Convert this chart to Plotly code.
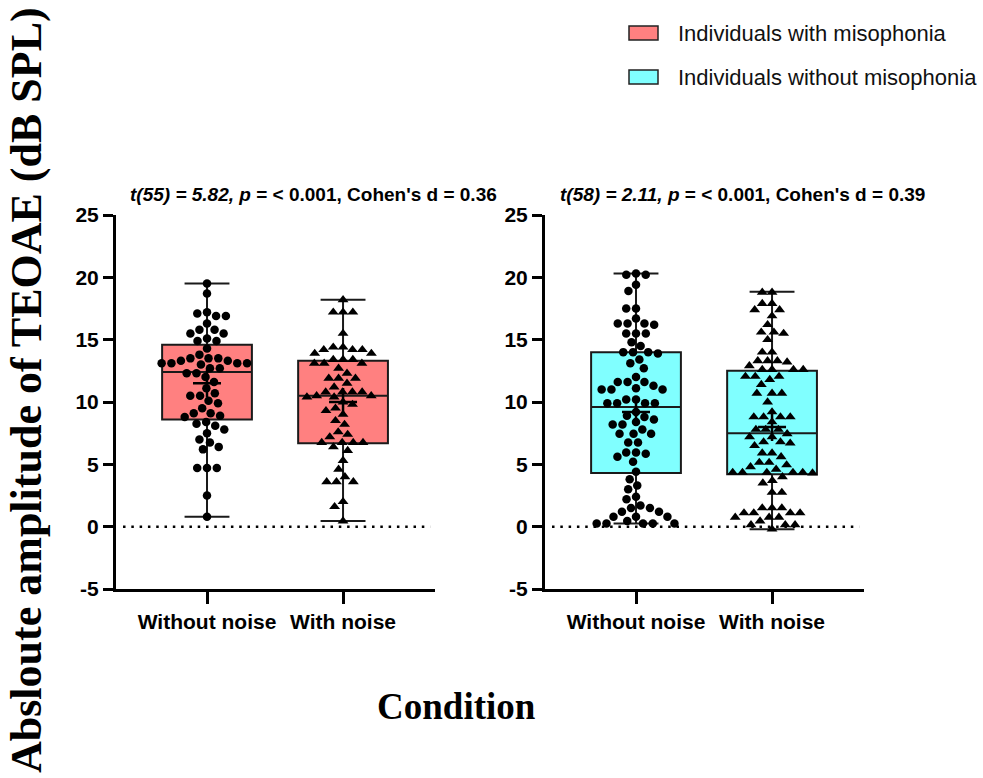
import math
import plotly.graph_objects as go

# ---------------- data ----------------
conditions = ["Without noise", "With noise"]
groups = ["Individuals with misophonia", "Individuals without misophonia"]
panel_titles = [
    "<b><i>t(55) = 5.82,</i> <i>p</i> = &lt; 0.001, Cohen's d = 0.36</b>",
    "<b><i>t(58) = 2.11,</i> <i>p</i> = &lt; 0.001, Cohen's d = 0.39</b>",
]
y_title = "Absloute amplitude of TEOAE (dB SPL)"
x_title = "Condition"
y_tick_values = [-5, 0, 5, 10, 15, 20, 25]
y_tick_labels = ["-5", "0", "5", "10", "15", "20", "25"]

miso_without = [19.5, 18.7, 17.2, 17.1, 16.9, 16.9, 16.3, 15.8, 15.8, 15.5, 15.5, 15.1, 14.9, 14.9,
                14.3, 13.8, 13.5, 13.5, 13.5, 13.3, 13.3, 13.1, 13.1, 13.0, 13.1, 13.1, 12.7, 12.7,
                12.3, 12.3, 12.0, 11.6, 11.1, 10.7, 10.5, 10.5, 10.1, 9.9, 9.5, 9.1, 9.1, 8.9, 8.8,
                8.4, 8.25, 8.1, 7.8, 7.5, 7.0, 6.75, 6.4, 6.2, 4.7, 4.7, 4.7, 2.5, 0.8]
miso_with = [18.2, 17.2, 17.2, 17.2, 15.5, 14.2, 14.2, 14.4, 14.4, 14.2, 13.9, 13.9, 13.4, 13.4,
             13.4, 13.1, 13.1, 13.1, 12.7, 12.3, 11.9, 11.9, 11.9, 11.5, 11.2, 10.8, 10.8, 10.8,
             10.8, 10.5, 10.5, 10.4, 10.4, 10.0, 9.8, 9.5, 9.3, 9.0, 8.5, 8.2, 7.6, 7.4, 7.2, 6.75,
             6.75, 6.75, 6.75, 6.4, 6.1, 5.3, 4.6, 4.0, 3.6, 3.6, 3.6, 2.0, 1.6, 0.45]
ctrl_without = [20.2, 20.3, 20.2, 19.4, 18.9, 17.5, 17.5, 16.7, 16.3, 16.3, 16.3, 16.2, 15.5, 15.5,
                15.5, 14.8, 14.5, 14.0, 14.0, 14.0, 13.9, 13.4, 13.1, 12.7, 12.0, 11.6, 11.6, 11.6,
                11.3, 11.1, 11.0, 11.0, 11.0, 10.2, 10.2, 9.9, 9.9, 9.9, 9.9, 9.2, 8.9, 8.8, 8.6, 8.4,
                8.2, 8.2, 7.8, 7.45, 7.45, 7.45, 6.75, 6.75, 5.95, 5.95, 5.85, 5.6, 5.2, 4.4, 3.8,
                3.3, 3.0, 2.4, 2.2, 1.7, 1.5, 1.5, 1.2, 1.2, 0.8, 0.8, 0.8, 0.45, 0.25, 0.25, 0.25,
                0.25, 0.25]
ctrl_with = [18.8, 18.8, 17.9, 17.9, 17.4, 17.4, 16.9, 16.2, 15.6, 15.6, 15.5, 15.0, 14.0, 14.0,
             13.3, 13.3, 13.3, 13.2, 12.9, 12.6, 12.6, 12.6, 12.6, 12.05, 12.05, 12.05, 11.8, 11.4,
             10.7, 10.7, 10.7, 10.0, 9.2, 8.8, 8.8, 8.8, 8.8, 8.4, 7.8, 7.8, 7.8, 7.45, 7.2, 7.2,
             6.8, 6.8, 6.7, 6.5, 5.9, 5.9, 5.6, 5.15, 5.15, 4.95, 4.8, 4.6, 4.35, 4.35, 4.35, 4.35,
             4.35, 4.3, 4.0, 3.7, 3.5, 2.75, 2.75, 1.5, 1.5, 1.5, 1.1, 1.1, 1.1, 1.1, 0.75, 0.75,
             0.75, 0.45, 0.15, 0.15, 0.15, -0.2]

# box summary statistics per panel: [without noise, with noise]
miso_q1 = [8.6, 6.7]
miso_median = [12.4, 10.5]
miso_q3 = [14.6, 13.3]
miso_min = [0.8, 0.45]
miso_max = [19.5, 18.2]
miso_mean = [11.5, 10.0]

ctrl_q1 = [4.3, 4.2]
ctrl_median = [9.6, 7.5]
ctrl_q3 = [14.0, 12.5]
ctrl_min = [0.25, -0.2]
ctrl_max = [20.3, 18.85]
ctrl_mean = [9.2, 8.0]

colors = ["#FF8080", "#80FFFF"]

# ---------------- layout geometry ----------------
W, H = 983, 778
XR = [-0.669, 1.676]
YR = [-5, 25]
dom_left = [116 / W, 435 / W]
dom_right = [545 / W, 864 / W]
dom_y = [(H - 589) / H, (H - 215) / H]
px_x = (dom_left[1] - dom_left[0]) * W / (XR[1] - XR[0])
px_y = (dom_y[1] - dom_y[0]) * H / (YR[1] - YR[0])


def swarm(values, center, d=9.8):
    """Beeswarm offsets computed in pixel space."""
    placed = []
    out = []
    for v in sorted(values, reverse=True):
        y = v * px_y
        cands = [0.0]
        for (px, py) in placed:
            dy = abs(py - y)
            if dy < d:
                dx = math.sqrt(d * d - dy * dy)
                cands += [px - dx, px + dx]
        valid = [c for c in cands
                 if all((c - px) ** 2 + (y - py) ** 2 >= d * d - 1e-6 for px, py in placed)]
        best = min(valid, key=lambda c: (abs(c), c))
        placed.append((best, y))
        out.append((center + best / px_x, v))
    return [p[0] for p in out], [p[1] for p in out]


fig = go.Figure()

panels = [
    ("x", "y", [miso_without, miso_with], miso_q1, miso_median, miso_q3, miso_min, miso_max, miso_mean, colors[0]),
    ("x2", "y2", [ctrl_without, ctrl_with], ctrl_q1, ctrl_median, ctrl_q3, ctrl_min, ctrl_max, ctrl_mean, colors[1]),
]

for xa, ya, vals, q1, med, q3, lo, hi, mean, col in panels:
    fig.add_trace(go.Box(
        x=[0, 1], q1=q1, median=med, q3=q3, lowerfence=lo, upperfence=hi,
        width=0.66, whiskerwidth=0.5, fillcolor=col,
        line=dict(color="#1a1a1a", width=2), boxpoints=False,
        xaxis=xa, yaxis=ya, showlegend=False, hoverinfo="skip"))
    for i, v in enumerate(vals):
        sx, sy = swarm(v, i)
        fig.add_trace(go.Scatter(
            x=sx, y=sy, mode="markers", xaxis=xa, yaxis=ya, showlegend=False,
            marker=dict(color="black", size=8.5 if i == 0 else 9.5,
                        symbol="circle" if i == 0 else "triangle-up", line=dict(width=0))))
    fig.add_trace(go.Scatter(
        x=[0, 1], y=mean, mode="markers", xaxis=xa, yaxis=ya, showlegend=False,
        marker=dict(symbol="cross-thin", size=20, line=dict(color="black", width=2.5))))

axis_font = dict(family="Arial, Liberation Sans", size=21, color="black", weight="bold")
for xa, dom in [("xaxis", dom_left), ("xaxis2", dom_right)]:
    fig.layout[xa] = dict(domain=dom, range=XR, tickvals=[0, 1], ticktext=conditions,
                          showline=True, linewidth=3, linecolor="black", ticks="outside",
                          ticklen=12, tickwidth=3, tickcolor="black", showgrid=False,
                          zeroline=False, tickfont=axis_font, fixedrange=True)
fig.layout["xaxis2"]["anchor"] = "y2"
fig.layout["xaxis"]["anchor"] = "y"
for ya, xa in [("yaxis", "x"), ("yaxis2", "x2")]:
    fig.layout[ya] = dict(domain=dom_y, range=YR, tickvals=y_tick_values, ticktext=y_tick_labels,
                          anchor=xa,
                          showline=True, linewidth=3, linecolor="black", ticks="outside",
                          ticklen=10, tickwidth=3, tickcolor="black", showgrid=False,
                          zeroline=False, tickfont=axis_font, fixedrange=True)

# dotted reference line at zero
for xr, yr in [("x domain", "y"), ("x2 domain", "y2")]:
    fig.add_shape(type="line", xref=xr, yref=yr, x0=0.022, x1=0.985, y0=0, y1=0,
                  line=dict(color="black", width=2.5, dash="2.5px,5.8px"), layer="below")

# panel titles
for xc, t in [((130 + 497) / 2 / W, panel_titles[0]), ((558 + 927) / 2 / W, panel_titles[1])]:
    fig.add_annotation(x=xc, y=(H - 195) / H, xref="paper", yref="paper", text=t,
                       showarrow=False, xanchor="center", yanchor="middle",
                       font=dict(family="Arial, Liberation Sans", size=19, color="black"))

# axis titles
fig.add_annotation(x=27 / W, y=(H - 390) / H, xref="paper", yref="paper", text="<b>" + y_title + "</b>",
                   textangle=-90, showarrow=False, xanchor="center", yanchor="middle",
                   font=dict(family="Times New Roman, Liberation Serif", size=44, color="black"))
fig.add_annotation(x=456 / W, y=(H - 706) / H, xref="paper", yref="paper", text="<b>" + x_title + "</b>",
                   showarrow=False, xanchor="center", yanchor="middle",
                   font=dict(family="Times New Roman, Liberation Serif", size=37, color="black"))

# legend (drawn manually)
for k, (g, c) in enumerate(zip(groups, colors)):
    yc = 33 + 44 * k
    fig.add_shape(type="rect", xref="paper", yref="paper",
                  x0=629 / W, x1=658 / W, y0=(H - yc - 7) / H, y1=(H - yc + 7) / H,
                  fillcolor=c, line=dict(color="#222222", width=1.5))
    fig.add_annotation(x=676 / W, y=(H - yc) / H, xref="paper", yref="paper", text=g,
                       showarrow=False, xanchor="left", yanchor="middle",
                       font=dict(family="Arial, Liberation Sans", size=22, color="#111111"))

fig.update_layout(width=W, height=H, margin=dict(l=0, r=0, t=0, b=0, autoexpand=False),
                  plot_bgcolor="white", paper_bgcolor="white", showlegend=False)

fig.write_html("out.html")
